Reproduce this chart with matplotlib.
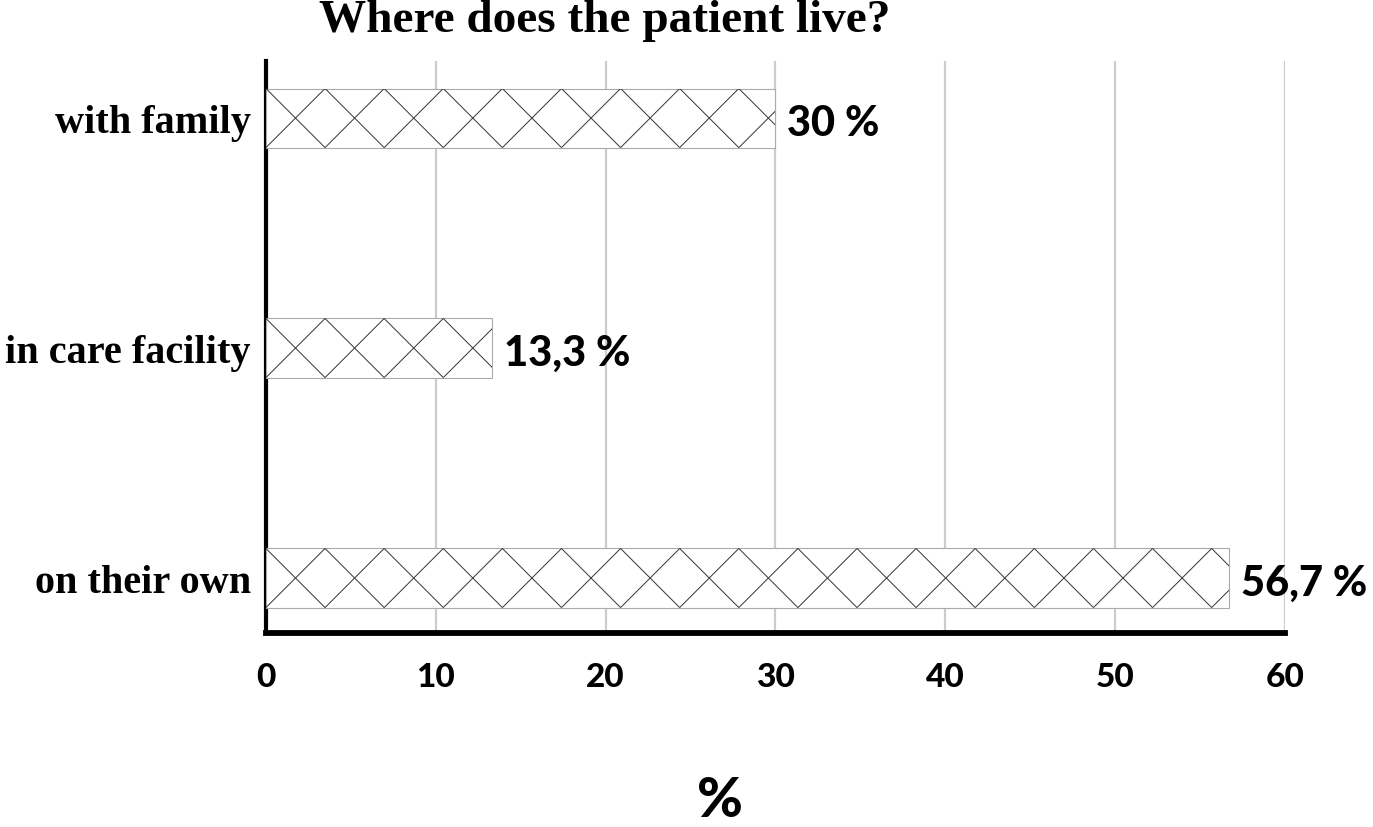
import matplotlib

matplotlib.use("Agg")
import matplotlib.pyplot as plt
import numpy as np
from matplotlib.collections import LineCollection
from matplotlib.transforms import IdentityTransform

categories = ["with family", "in care facility", "on their own"]
values = [30, 13.3, 56.7]
xticks = [0, 10, 20, 30, 40, 50, 60]

SERIF = ["Liberation Serif", "DejaVu Serif"]
HEAVY = ["Lato", "DejaVu Sans"]

fig = plt.figure(figsize=(13.73, 8.28), dpi=100)
ax = fig.add_axes([0.1937, 0.2343, 0.7422, 0.6908])

ax.set_xlim(0, 60)
ax.set_ylim(2.239, -0.248)

pos = list(range(len(categories)))
bars = ax.barh(pos, values, height=0.257, color="white",
               edgecolor="#aaaaaa", linewidth=0.8, zorder=3)


def diamond_hatch(patch):
    # diagonal cross lines, one diamond per bar height, anchored at left edge
    (x0, y0), (x1, y1) = ax.transData.transform(
        [[patch.get_x(), patch.get_y()],
         [patch.get_x() + patch.get_width(), patch.get_y() + patch.get_height()]])
    xa, xb = sorted((x0, x1))
    ya, yb = sorted((y0, y1))
    h = yb - ya
    segs = []
    for k in np.arange(-2, int((xb - xa) / h) + 3):
        s = xa + k * h
        segs.append([(s, yb), (s + h, ya)])
        segs.append([(s, ya), (s + h, yb)])
    lc = LineCollection(segs, colors="#333333", linewidths=0.7,
                        transform=IdentityTransform(), zorder=3.5)
    ax.add_collection(lc)
    lc.set_clip_path(patch)


for b in bars:
    diamond_hatch(b)

for p, v in zip(pos, values):
    txt = f"{v:g}".replace(".", ",") + " %"
    ax.text(v + 0.7, p + 0.02, txt, va="center", ha="left",
            fontsize=30, family=HEAVY, fontweight="black")

ax.set_xticks(xticks)
ax.set_xticklabels([str(t) for t in xticks], family=HEAVY,
                   fontweight="black", fontsize=24)
ax.set_yticks(pos)
ax.set_yticklabels(categories, family=SERIF, fontweight="bold", fontsize=29)
ax.tick_params(axis="x", length=0, pad=21)
ax.tick_params(axis="y", length=0, pad=11)

ax.grid(axis="x", color="#cccccc", linewidth=1.6, zorder=0)
ax.set_axisbelow(True)
for s in ("top", "right"):
    ax.spines[s].set_visible(False)
ax.spines["left"].set_linewidth(3.0)
ax.spines["bottom"].set_linewidth(4.2)

fig.text(605 / 1373, 1 - 21 / 828, "Where does the patient live?",
         ha="center", va="center", family=SERIF, fontweight="bold",
         fontsize=34)
fig.text(720 / 1373, 1 - 801 / 828, "%", ha="center", va="center",
         family=HEAVY, fontweight="black", fontsize=40)

fig.savefig("out.png", dpi=100)
